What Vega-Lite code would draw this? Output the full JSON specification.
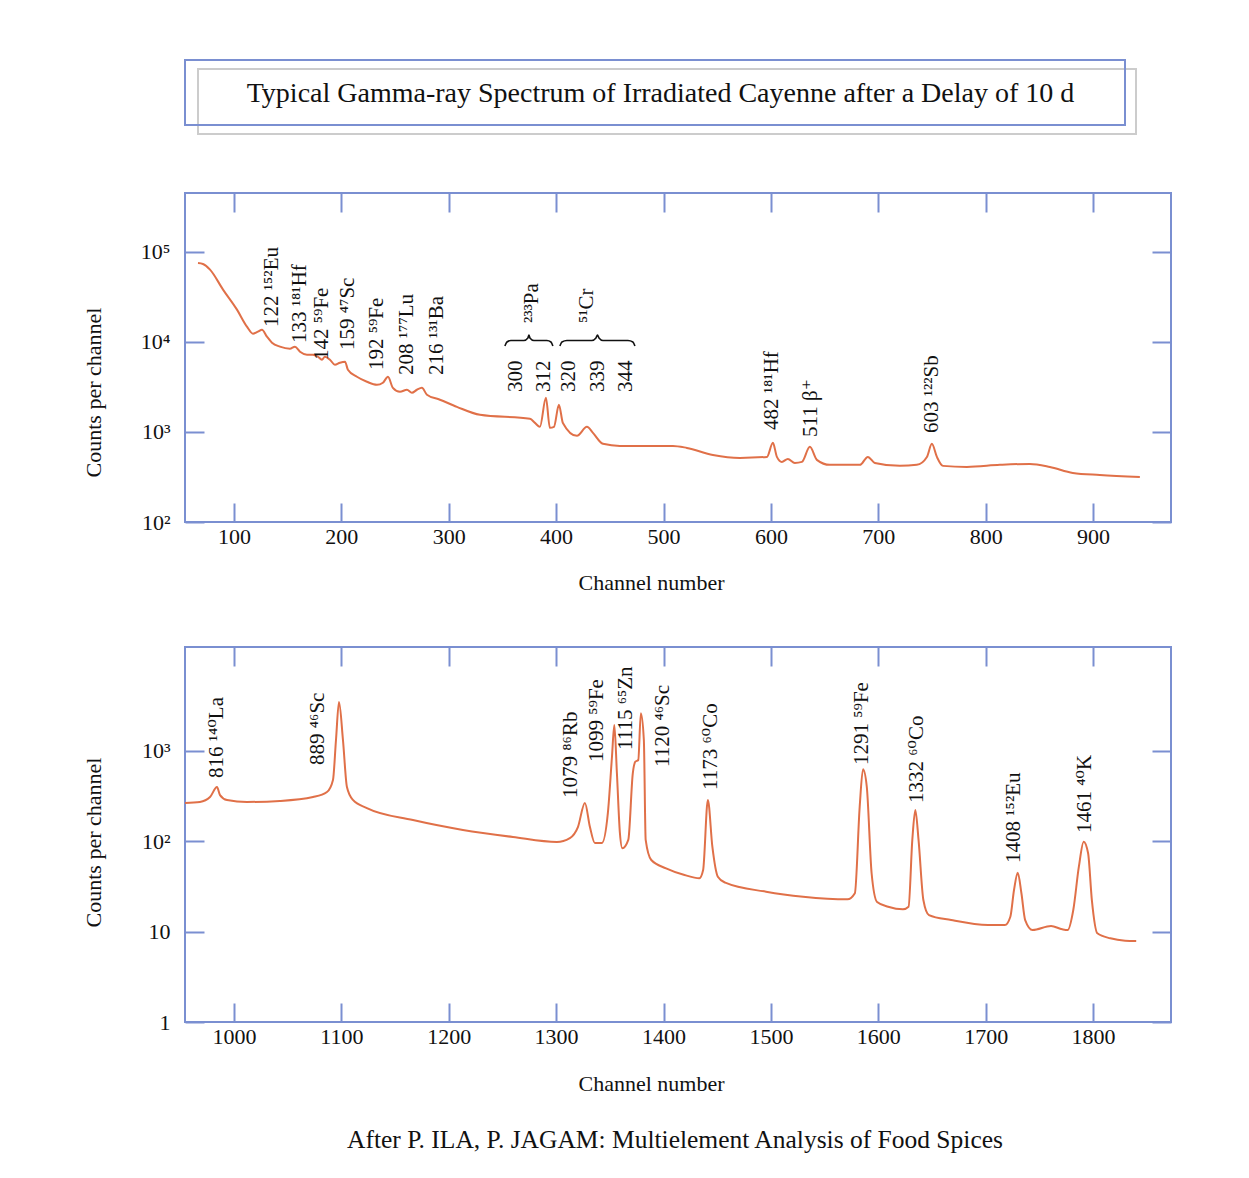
{
  "$schema": "https://vega.github.io/schema/vega-lite/v6.json",
  "background": "white",
  "padding": {"left": 81, "top": 59, "right": 20, "bottom": 20},
  "spacing": 51,
  "title": {"text": "After P. ILA, P. JAGAM: Multielement Analysis of Food Spices", "orient": "bottom", "anchor": "middle", "font": "Liberation Serif", "fontSize": 25.5, "fontWeight": "normal", "color": "#111", "offset": 33, "dx": 48},
  "config": {
    "font": "Liberation Serif",
    "view": {"stroke": "#7a8fd1", "strokeWidth": 2},
    "axis": {"domain": false, "grid": false, "tickColor": "#7a8fd1", "tickWidth": 2, "tickSize": -19, "labelFont": "Liberation Serif", "labelFontSize": 22, "labelColor": "#111", "titleFont": "Liberation Serif", "titleFontSize": 22, "titleFontWeight": "normal", "titleColor": "#111", "labelFlush": false}
  },
  "datasets": {
    "topCurve": [
      {"channel": 66.5, "counts": 75100}, {"channel": 71.1, "counts": 73300}, {"channel": 77.7, "counts": 63500}, {"channel": 89.8, "counts": 38100}, {"channel": 102.8, "counts": 22800}, {"channel": 112.1, "counts": 14760}, {"channel": 117.7, "counts": 12340}, {"channel": 122.3, "counts": 12980}, {"channel": 126.1, "counts": 13670}, {"channel": 130.7, "counts": 11430}, {"channel": 135.4, "counts": 9800}, {"channel": 142.8, "counts": 8850}, {"channel": 152.1, "counts": 8400}, {"channel": 156.8, "counts": 8850}, {"channel": 161.5, "counts": 7780}, {"channel": 168.0, "counts": 7210}, {"channel": 173.6, "counts": 7210}, {"channel": 178.2, "counts": 6840}, {"channel": 181.9, "counts": 6340}, {"channel": 184.7, "counts": 6840}, {"channel": 189.4, "counts": 6340}, {"channel": 194.0, "counts": 5570}, {"channel": 198.7, "counts": 5870}, {"channel": 203.4, "counts": 6020}, {"channel": 206.1, "counts": 4910}, {"channel": 214.5, "counts": 4100}, {"channel": 223.8, "counts": 3610}, {"channel": 233.1, "counts": 3340}, {"channel": 238.7, "counts": 3520}, {"channel": 243.4, "counts": 4100}, {"channel": 248.0, "counts": 3090}, {"channel": 254.6, "counts": 2790}, {"channel": 261.1, "counts": 2940}, {"channel": 265.7, "counts": 2720}, {"channel": 270.4, "counts": 2940}, {"channel": 275.0, "counts": 3090}, {"channel": 279.7, "counts": 2590}, {"channel": 291.8, "counts": 2280}, {"channel": 307.6, "counts": 1900}, {"channel": 329.1, "counts": 1550}, {"channel": 375.6, "counts": 1400}, {"channel": 380.3, "counts": 1260}, {"channel": 384.9, "counts": 1140}, {"channel": 390.5, "counts": 2390}, {"channel": 394.2, "counts": 1110}, {"channel": 398.0, "counts": 1140}, {"channel": 402.6, "counts": 2000}, {"channel": 406.3, "counts": 1260}, {"channel": 419.4, "counts": 905}, {"channel": 428.7, "counts": 1140}, {"channel": 434.3, "counts": 977}, {"channel": 443.6, "counts": 738}, {"channel": 459.4, "counts": 700}, {"channel": 484.5, "counts": 700}, {"channel": 508.8, "counts": 700}, {"channel": 521.8, "counts": 665}, {"channel": 546.0, "counts": 556}, {"channel": 571.1, "counts": 515}, {"channel": 596.3, "counts": 528}, {"channel": 601.9, "counts": 757}, {"channel": 605.6, "counts": 528}, {"channel": 610.2, "counts": 465}, {"channel": 615.8, "counts": 502}, {"channel": 622.3, "counts": 453}, {"channel": 628.9, "counts": 465}, {"channel": 636.3, "counts": 683}, {"channel": 642.8, "counts": 490}, {"channel": 654.9, "counts": 431}, {"channel": 682.9, "counts": 431}, {"channel": 690.3, "counts": 528}, {"channel": 696.8, "counts": 453}, {"channel": 720.1, "counts": 420}, {"channel": 735.9, "counts": 431}, {"channel": 745.3, "counts": 528}, {"channel": 749.9, "counts": 738}, {"channel": 754.6, "counts": 528}, {"channel": 760.2, "counts": 420}, {"channel": 782.5, "counts": 409}, {"channel": 813.2, "counts": 431}, {"channel": 841.2, "counts": 442}, {"channel": 859.8, "counts": 409}, {"channel": 881.2, "counts": 351}, {"channel": 906.3, "counts": 333}, {"channel": 943.6, "counts": 317}
    ],
    "topLabels": [
      {"channel": 135.4, "counts": 14630, "label": "122 ¹⁵²Eu"},
      {"channel": 161.5, "counts": 9720, "label": "133 ¹⁸¹Hf"},
      {"channel": 181.9, "counts": 6300, "label": "142 ⁵⁹Fe"},
      {"channel": 206.1, "counts": 8130, "label": "159 ⁴⁷Sc"},
      {"channel": 233.1, "counts": 4870, "label": "192 ⁵⁹Fe"},
      {"channel": 261.1, "counts": 4290, "label": "208 ¹⁷⁷Lu"},
      {"channel": 289.0, "counts": 4290, "label": "216 ¹³¹Ba"},
      {"channel": 362.6, "counts": 2780, "label": "300"},
      {"channel": 388.6, "counts": 2780, "label": "312"},
      {"channel": 411.9, "counts": 2780, "label": "320"},
      {"channel": 438.9, "counts": 2780, "label": "339"},
      {"channel": 465.0, "counts": 2780, "label": "344"},
      {"channel": 377.2, "counts": 16200, "label": "²³³Pa"},
      {"channel": 428.4, "counts": 16200, "label": "⁵¹Cr"},
      {"channel": 600.9, "counts": 1050, "label": "482 ¹⁸¹Hf"},
      {"channel": 637.2, "counts": 879, "label": "511 β⁺"},
      {"channel": 749.9, "counts": 973, "label": "603 ¹²²Sb"}
    ],
    "braces": [
      {"brace": "Pa", "channel": 352.3, "counts": 8995}, {"brace": "Pa", "channel": 354.2, "counts": 9970}, {"brace": "Pa", "channel": 357.9, "counts": 10350}, {"brace": "Pa", "channel": 370.0, "counts": 10350}, {"brace": "Pa", "channel": 373.7, "counts": 11040}, {"brace": "Pa", "channel": 374.7, "counts": 11920}, {"brace": "Pa", "channel": 375.6, "counts": 11040}, {"brace": "Pa", "channel": 379.3, "counts": 10350}, {"brace": "Pa", "channel": 391.4, "counts": 10350}, {"brace": "Pa", "channel": 395.2, "counts": 9970}, {"brace": "Pa", "channel": 397.0, "counts": 8995},
      {"brace": "Cr", "channel": 403.5, "counts": 8995}, {"brace": "Cr", "channel": 405.4, "counts": 9970}, {"brace": "Cr", "channel": 410.1, "counts": 10350}, {"brace": "Cr", "channel": 433.3, "counts": 10350}, {"brace": "Cr", "channel": 437.1, "counts": 11040}, {"brace": "Cr", "channel": 438.5, "counts": 11920}, {"brace": "Cr", "channel": 439.9, "counts": 11040}, {"brace": "Cr", "channel": 443.6, "counts": 10350}, {"brace": "Cr", "channel": 466.9, "counts": 10350}, {"brace": "Cr", "channel": 471.5, "counts": 9970}, {"brace": "Cr", "channel": 473.4, "counts": 8995}
    ],
    "bottomCurve": [
      {"channel": 954.4, "counts": 264}, {"channel": 968.3, "counts": 271}, {"channel": 977.7, "counts": 307}, {"channel": 984.2, "counts": 396}, {"channel": 987.0, "counts": 323}, {"channel": 993.5, "counts": 285}, {"channel": 1012.1, "counts": 271}, {"channel": 1042.8, "counts": 278}, {"channel": 1073.6, "counts": 307}, {"channel": 1086.6, "counts": 349}, {"channel": 1092.2, "counts": 474}, {"channel": 1095.0, "counts": 1312}, {"channel": 1097.8, "counts": 3450}, {"channel": 1101.5, "counts": 1312}, {"channel": 1105.2, "counts": 396}, {"channel": 1110.8, "counts": 285}, {"channel": 1123.8, "counts": 232}, {"channel": 1166.7, "counts": 171}, {"channel": 1213.2, "counts": 133}, {"channel": 1259.8, "counts": 111}, {"channel": 1300.7, "counts": 97.7}, {"channel": 1312.8, "counts": 108}, {"channel": 1320.3, "counts": 143}, {"channel": 1326.8, "counts": 264}, {"channel": 1331.5, "counts": 143}, {"channel": 1336.1, "counts": 95.3}, {"channel": 1342.6, "counts": 95.3}, {"channel": 1348.2, "counts": 205}, {"channel": 1352.0, "counts": 851}, {"channel": 1354.2, "counts": 1920}, {"channel": 1356.6, "counts": 566}, {"channel": 1359.4, "counts": 123}, {"channel": 1361.7, "counts": 83.2}, {"channel": 1367.2, "counts": 103}, {"channel": 1371.4, "counts": 562}, {"channel": 1373.8, "counts": 755}, {"channel": 1376.5, "counts": 788}, {"channel": 1378.9, "counts": 2590}, {"channel": 1381.7, "counts": 1312}, {"channel": 1383.4, "counts": 103}, {"channel": 1388.6, "counts": 61.8}, {"channel": 1402.4, "counts": 50.0}, {"channel": 1419.6, "counts": 42.2}, {"channel": 1433.4, "counts": 38.8}, {"channel": 1436.9, "counts": 47.9}, {"channel": 1441.3, "counts": 285}, {"channel": 1445.5, "counts": 86.7}, {"channel": 1450.6, "counts": 40.4}, {"channel": 1457.5, "counts": 34.7}, {"channel": 1495.5, "counts": 27.6}, {"channel": 1530.0, "counts": 24.3}, {"channel": 1571.3, "counts": 22.7}, {"channel": 1578.2, "counts": 26.5}, {"channel": 1582.7, "counts": 240}, {"channel": 1585.8, "counts": 622}, {"channel": 1589.3, "counts": 399}, {"channel": 1593.8, "counts": 44.1}, {"channel": 1598.9, "counts": 21.2}, {"channel": 1609.2, "counts": 18.8}, {"channel": 1623.0, "counts": 17.6}, {"channel": 1628.2, "counts": 18.8}, {"channel": 1631.7, "counts": 103}, {"channel": 1634.5, "counts": 221}, {"channel": 1637.5, "counts": 103}, {"channel": 1642.0, "counts": 22.3}, {"channel": 1647.2, "counts": 15.2}, {"channel": 1667.9, "counts": 13.4}, {"channel": 1702.3, "counts": 11.8}, {"channel": 1717.9, "counts": 11.8}, {"channel": 1723.0, "counts": 14.6}, {"channel": 1726.4, "counts": 28.8}, {"channel": 1729.9, "counts": 44.7}, {"channel": 1733.3, "counts": 26.5}, {"channel": 1736.8, "counts": 13.4}, {"channel": 1743.7, "counts": 10.4}, {"channel": 1760.9, "counts": 11.5}, {"channel": 1771.3, "counts": 10.6}, {"channel": 1776.4, "counts": 10.4}, {"channel": 1781.6, "counts": 17.3}, {"channel": 1786.8, "counts": 52.1}, {"channel": 1791.3, "counts": 98.5}, {"channel": 1795.4, "counts": 73.3}, {"channel": 1798.9, "counts": 22.3}, {"channel": 1804.0, "counts": 9.57}, {"channel": 1816.1, "counts": 8.42}, {"channel": 1829.9, "counts": 7.92}, {"channel": 1840.2, "counts": 7.86}
    ],
    "bottomLabels": [
      {"channel": 984.2, "counts": 499, "label": "816 ¹⁴⁰La"},
      {"channel": 1078.2, "counts": 694, "label": "889 ⁴⁶Sc"},
      {"channel": 1313.8, "counts": 300, "label": "1079 ⁸⁶Rb"},
      {"channel": 1338.0, "counts": 749, "label": "1099 ⁵⁹Fe"},
      {"channel": 1365.0, "counts": 1016, "label": "1115 ⁶⁵Zn"},
      {"channel": 1399.4, "counts": 659, "label": "1120 ⁴⁶Sc"},
      {"channel": 1444.1, "counts": 367, "label": "1173 ⁶⁰Co"},
      {"channel": 1584.7, "counts": 694, "label": "1291 ⁵⁹Fe"},
      {"channel": 1635.9, "counts": 264, "label": "1332 ⁶⁰Co"},
      {"channel": 1726.3, "counts": 57.3, "label": "1408 ¹⁵²Eu"},
      {"channel": 1792.4, "counts": 123, "label": "1461 ⁴⁰K"}
    ],
    "heading": [{"heading": "Typical Gamma-ray Spectrum of Irradiated Cayenne after a Delay of 10 d"}]
  },
  "vconcat": [
    {
      "width": 951,
      "height": 74,
      "view": {"stroke": null},
      "data": {"name": "heading"},
      "layer": [
        {"mark": {"type": "rect", "fill": null, "stroke": "#cccccc", "strokeWidth": 2, "x": 0, "x2": "width", "y": 0, "y2": "height", "xOffset": 13, "yOffset": 9}, "encoding": {}},
        {"mark": {"type": "rect", "fill": null, "stroke": "#7a8fd1", "strokeWidth": 2, "x": "width", "x2": 0, "y": "height", "y2": 0, "xOffset": -11, "yOffset": -9}, "encoding": {}},
        {"mark": {"type": "text", "font": "Liberation Serif", "fontSize": 28, "color": "#111", "baseline": "middle", "dx": 0, "dy": -3}, "encoding": {"text": {"field": "heading"}}}
      ]
    },
    {
      "width": 986,
      "height": 329,
      "layer": [
        {
          "data": {"name": "topCurve"},
          "mark": {"type": "line", "color": "#e07048", "strokeWidth": 2, "interpolate": "monotone"},
          "encoding": {
            "x": {"field": "channel", "type": "quantitative", "scale": {"domain": [54.4, 972.6], "nice": false, "zero": false},
              "axis": {"orient": "bottom", "values": [100, 200, 300, 400, 500, 600, 700, 800, 900], "format": "d", "labelPadding": 23, "title": "Channel number", "titleX": 466, "titleY": 60, "titleBaseline": "middle"}},
            "y": {"field": "counts", "type": "quantitative", "scale": {"type": "log", "domain": [100, 450000], "nice": false},
              "axis": {"orient": "left", "values": [100, 1000, 10000, 100000], "labelExpr": "datum.value == 100 ? '10²' : datum.value == 1000 ? '10³' : datum.value == 10000 ? '10⁴' : '10⁵'", "labelPadding": 34, "title": "Counts per channel", "titleX": -92, "titleY": 199, "titleBaseline": "middle", "titleAngle": 270}}
          }
        },
        {
          "data": {"name": "braces"},
          "mark": {"type": "line", "color": "#111", "strokeWidth": 1.6, "interpolate": "monotone"},
          "encoding": {
            "x": {"field": "channel", "type": "quantitative", "axis": null},
            "y": {"field": "counts", "type": "quantitative", "axis": null},
            "detail": {"field": "brace"}
          }
        },
        {
          "data": {"name": "topLabels"},
          "mark": {"type": "text", "angle": 270, "align": "left", "baseline": "middle", "fontSize": 21, "font": "Liberation Serif, DejaVu Serif", "color": "#111"},
          "encoding": {
            "x": {"field": "channel", "type": "quantitative", "axis": {"orient": "top", "values": [100, 200, 300, 400, 500, 600, 700, 800, 900], "labels": true, "labelOpacity": 0, "labelFontSize": 6, "labelPadding": 19, "title": null}},
            "y": {"field": "counts", "type": "quantitative", "axis": {"orient": "right", "values": [100, 1000, 10000, 100000], "labels": false, "title": null}},
            "text": {"field": "label"}
          }
        }
      ],
      "resolve": {"axis": {"x": "independent", "y": "independent"}}
    },
    {
      "width": 986,
      "height": 375,
      "layer": [
        {
          "data": {"name": "bottomCurve"},
          "mark": {"type": "line", "color": "#e07048", "strokeWidth": 2, "interpolate": "monotone"},
          "encoding": {
            "x": {"field": "channel", "type": "quantitative", "scale": {"domain": [954.4, 1872.6], "nice": false, "zero": false},
              "axis": {"orient": "bottom", "values": [1000, 1100, 1200, 1300, 1400, 1500, 1600, 1700, 1800], "format": "d", "labelPadding": 23, "title": "Channel number", "titleX": 466, "titleY": 61, "titleBaseline": "middle"}},
            "y": {"field": "counts", "type": "quantitative", "scale": {"type": "log", "domain": [1, 14000], "nice": false},
              "axis": {"orient": "left", "values": [1, 10, 100, 1000], "labelExpr": "datum.value == 1 ? '1' : datum.value == 10 ? '10' : datum.value == 100 ? '10²' : '10³'", "labelPadding": 34, "title": "Counts per channel", "titleX": -92, "titleY": 195, "titleBaseline": "middle", "titleAngle": 270}}
          }
        },
        {
          "data": {"name": "bottomLabels"},
          "mark": {"type": "text", "angle": 270, "align": "left", "baseline": "middle", "fontSize": 21, "font": "Liberation Serif, DejaVu Serif", "color": "#111"},
          "encoding": {
            "x": {"field": "channel", "type": "quantitative", "axis": {"orient": "top", "values": [1000, 1100, 1200, 1300, 1400, 1500, 1600, 1700, 1800], "labels": false, "title": null}},
            "y": {"field": "counts", "type": "quantitative", "axis": {"orient": "right", "values": [1, 10, 100, 1000], "labels": false, "title": null}},
            "text": {"field": "label"}
          }
        }
      ],
      "resolve": {"axis": {"x": "independent", "y": "independent"}}
    }
  ]
}
